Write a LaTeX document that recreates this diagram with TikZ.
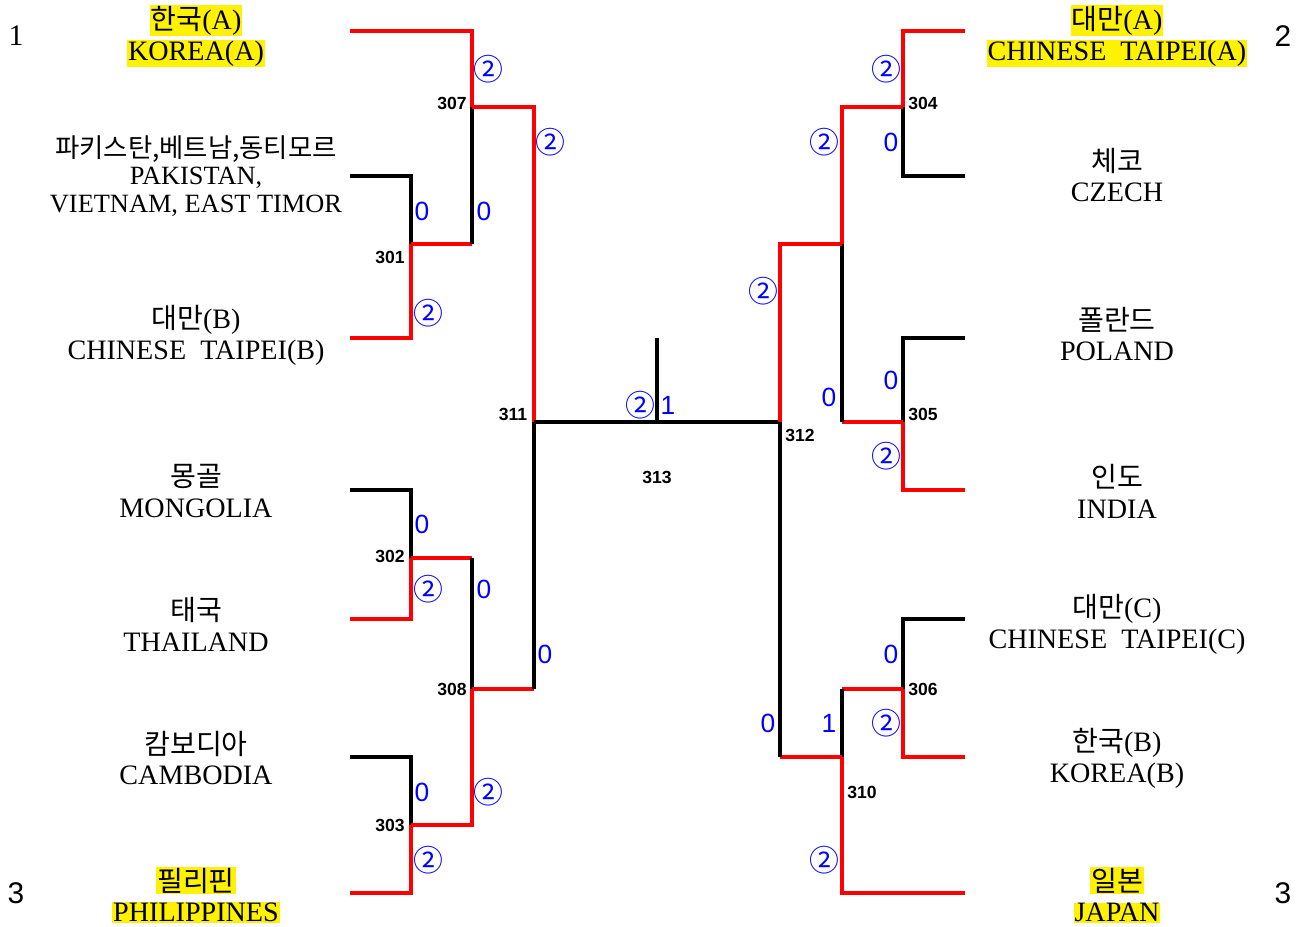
\documentclass[tikz,border=0pt]{standalone}
\usepackage{fontspec}
\usepackage{xcolor}
\usetikzlibrary{positioning}
\setmainfont{Liberation Serif}
\setsansfont{Liberation Sans}
\newfontfamily\krfont{Noto Sans CJK KR}
\newcommand{\kr}[1]{{\krfont #1}}
\newcommand{\hl}[1]{{\setlength{\fboxsep}{0.5pt}\colorbox{yellow}{#1}}}

\begin{document}
\begin{tikzpicture}[x=0.02cm, y=-0.02cm,
  team/.style={align=center, font=\fontsize{16}{17.6}\selectfont, inner sep=0pt},
  num/.style={font=\sffamily\bfseries\fontsize{10}{12}\selectfont, inner sep=0pt},
  sc/.style={text=blue, font=\sffamily\fontsize{15}{17}\selectfont, inner sep=0pt},
  cir/.style={text=blue, font=\krfont\fontsize{17}{19}\selectfont, inner sep=0pt},
  seed/.style={font=\sffamily\fontsize{17}{19}\selectfont, inner sep=0pt},
  win/.style={draw=red, line width=1.9pt},
  lose/.style={draw=black, line width=1.9pt}
]
\useasboundingbox (0,0) rectangle (1303,927);
% leaves
\coordinate (l1) at (350,31);  \coordinate (r1) at (965,31);
\coordinate (l2) at (350,176); \coordinate (r2) at (965,176);
\coordinate (l3) at (350,338); \coordinate (r3) at (965,338);
\coordinate (l4) at (350,490); \coordinate (r4) at (965,490);
\coordinate (l5) at (350,619); \coordinate (r5) at (965,619);
\coordinate (l6) at (350,757); \coordinate (r6) at (965,757);
\coordinate (l7) at (350,893); \coordinate (r7) at (965,893);
% matches
\coordinate (m301) at (411,244); \coordinate (m302) at (411,558); \coordinate (m303) at (411,825);
\coordinate (m307) at (472,107); \coordinate (m308) at (472,689); \coordinate (m311) at (534,422);
\coordinate (m304) at (903,107); \coordinate (m305) at (903,422); \coordinate (m306) at (903,689);
\coordinate (m309) at (842,244); \coordinate (m310) at (842,757); \coordinate (m312) at (780,422);
\coordinate (m313) at (657,422); \coordinate (top) at (657,338);

% left half
\draw[win] (l1) -| (m307);
\draw[lose] (l2) -| (m301);
\draw[win] (l3) -| (m301);
\draw[win] (m301) -- (m301 -| m307);
\draw[lose] (m301 -| m307) -- (m307);
\draw[win] (m307) -| (m311);
\draw[lose] (l4) -| (m302);
\draw[win] (l5) -| (m302);
\draw[lose] (l6) -| (m303);
\draw[win] (l7) -| (m303);
\draw[win] (m302) -- (m302 -| m308);
\draw[lose] (m302 -| m308) -- (m308);
\draw[win] (m303) -| (m308);
\draw[win] (m308) -- (m308 -| m311);
\draw[lose] (m308 -| m311) -- (m311);
% final
\draw[lose] (m311) -- (m312);
\draw[lose] (m313) -- (top);
% right half
\draw[win] (r1) -| (m304);
\draw[lose] (r2) -| (m304);
\draw[lose] (r3) -| (m305);
\draw[win] (r4) -| (m305);
\draw[lose] (r5) -| (m306);
\draw[win] (r6) -| (m306);
\draw[win] (r7) -| (m310);
\draw[win] (m304) -| (m309);
\draw[win] (m305) -- (m305 -| m309);
\draw[lose] (m305 -| m309) -- (m309);
\draw[win] (m306) -- (m306 -| m310);
\draw[lose] (m306 -| m310) -- (m310);
\draw[win] (m309) -| (m312);
\draw[win] (m310) -- (m310 -| m312);
\draw[lose] (m310 -| m312) -- (m312);

% teams
\node[team] (ka) at (196,36) {\hl{\kr{한국}(A)}\\\hl{KOREA(A)}};
\node[team, font=\fontsize{15}{15.6}\selectfont] (pk) at (196,176) {\kr{파키스탄,베트남,동티모르}\\PAKISTAN,\\VIETNAM, EAST TIMOR};
\node[team] (tb) at (196,335) {\kr{대만}(B)\\CHINESE~~TAIPEI(B)};
\node[team] (mn) at (196,491) {\kr{몽골}\\MONGOLIA};
\node[team] (th) at (196,624) {\kr{태국}\\THAILAND};
\node[team] (kh) at (196,758) {\kr{캄보디아}\\CAMBODIA};
\node[team] (ph) at (196,895) {\hl{\kr{필리핀}}\\\hl{PHILIPPINES}};
\node[team] (ta) at (1117,36) {\hl{\kr{대만}(A)}\\\hl{CHINESE~~TAIPEI(A)}};
\node[team] (cz) at (1117,175) {\kr{체코}\\CZECH};
\node[team] (pl) at (1117,334) {\kr{폴란드}\\POLAND};
\node[team] (in) at (1117,491) {\kr{인도}\\INDIA};
\node[team] (tc) at (1117,624) {\kr{대만}(C)\\CHINESE~~TAIPEI(C)};
\node[team] (kb) at (1117,758) {\kr{한국}(B)\\KOREA(B)};
\node[team] (jp) at (1117,895) {\hl{\kr{일본}}\\\hl{JAPAN}};

% seeds
\node[seed, font=\fontsize{17}{19}\selectfont] (s1) at (16,36) {1};
\node[seed] (s2) at (1283,36) {2};
\node[seed] (s3) at (16,893) {3};
\node[seed] (s4) at (1283,893) {3};

% match numbers
\node[num] (n307) at (452,103) {307};
\node[num] (n301) at (390,257) {301};
\node[num] (n302) at (390,556) {302};
\node[num] (n303) at (390,825) {303};
\node[num] (n308) at (452,689) {308};
\node[num] (n311) at (513,414) {311};
\node[num] (n313) at (657,477) {313};
\node[num] (n312) at (800,435) {312};
\node[num] (n304) at (923,103) {304};
\node[num] (n305) at (923,414) {305};
\node[num] (n306) at (923,689) {306};
\node[num] (n310) at (862,792) {310};

% scores
\node[cir] (a1) at (488,69) {②};
\node[cir] (a2) at (550,142) {②};
\node[sc] (a3) at (422,211) {0};
\node[sc] (a4) at (484,211) {0};
\node[cir] (a5) at (428,313) {②};
\node[sc] (a6) at (422,524) {0};
\node[cir] (a7) at (428,589) {②};
\node[sc] (a8) at (484,589) {0};
\node[sc] (a9) at (545,654) {0};
\node[sc] (a10) at (422,792) {0};
\node[cir] (a11) at (488,792) {②};
\node[cir] (a12) at (428,860) {②};
\node[cir] (f1) at (640,405) {②};
\node[sc] (f2) at (668,405) {1};
\node[cir] (b1) at (886,69) {②};
\node[cir] (b2) at (824,142) {②};
\node[sc] (b3) at (891,142) {0};
\node[cir] (b4) at (763,291) {②};
\node[sc] (b5) at (891,380) {0};
\node[sc] (b6) at (829,397) {0};
\node[cir] (b7) at (886,456) {②};
\node[sc] (b8) at (891,654) {0};
\node[sc] (b9) at (768,723) {0};
\node[sc] (b10) at (829,723) {1};
\node[cir] (b11) at (886,723) {②};
\node[cir] (b12) at (824,860) {②};
\end{tikzpicture}
\end{document}
